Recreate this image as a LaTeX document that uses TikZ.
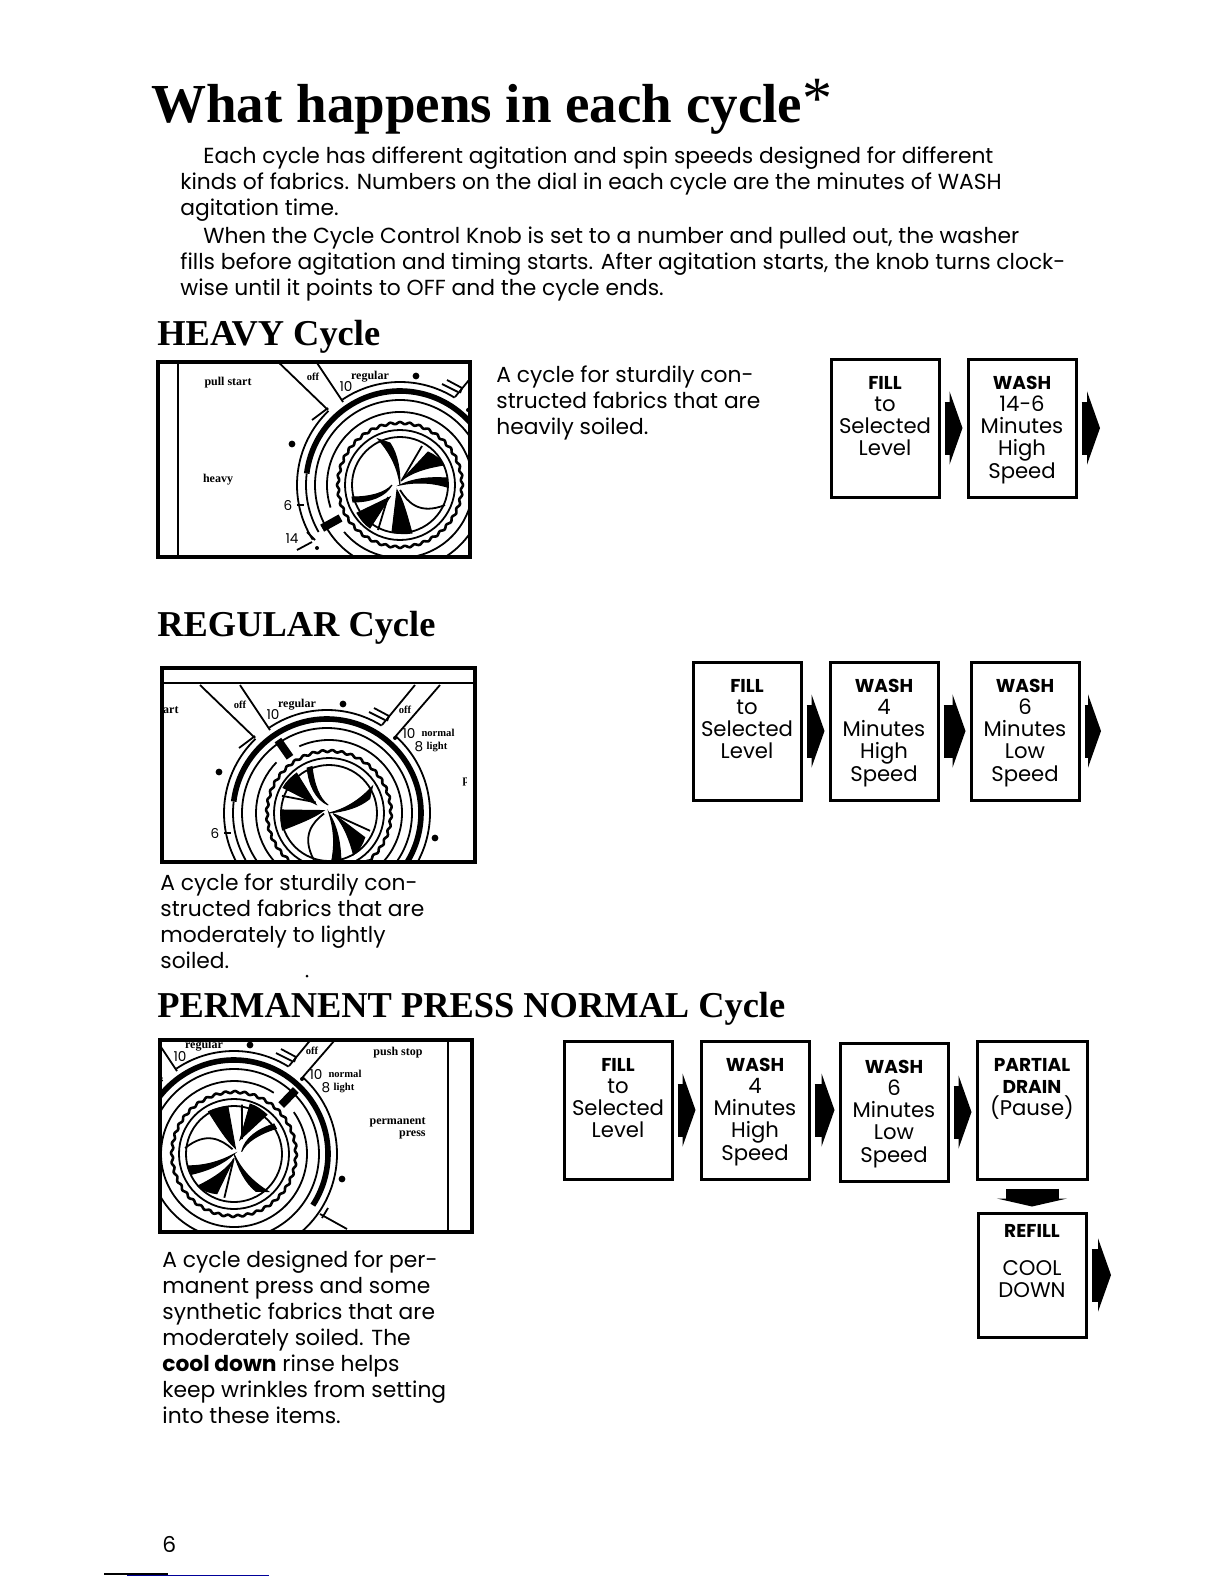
\documentclass[tikz,border=0pt]{standalone}
\usepackage{fontspec}
\setmainfont{Poppins}
\newfontfamily\headfont{Liberation Serif}
\usetikzlibrary{arrows.meta, positioning}

\newcommand{\boxhead}[1]{{\fontsize{9.3}{11.1}\selectfont\bfseries #1}}

\tikzset{
	bodytext/.style={anchor=north west, inner sep=0pt, align=left, font=\fontsize{10.9}{13}\selectfont},
	headtext/.style={anchor=base west, inner sep=0pt, font=\headfont\bfseries\fontsize{18.2}{22}\selectfont},
	flowbox/.style={draw, line width=1.5pt, inner sep=0pt, font=\fontsize{10.6}{11.1}\selectfont},
	flowarrow/.style={line width=26.5pt, -{Triangle[length=6.5pt,width=36.5pt]}, shorten <=2pt, shorten >=2pt},
	downarrow/.style={line width=26.5pt, -{Triangle[length=4pt,width=35pt]}, shorten <=4pt, shorten >=2.5pt},
	dialframe/.style={line width=2pt},
	panelline/.style={line width=0.9pt},
	paneltext/.style={inner sep=0pt, font=\headfont\bfseries\fontsize{6}{6}\selectfont},
	panelsmall/.style={inner sep=0pt, font=\headfont\bfseries\fontsize{5.3}{6}\selectfont},
	panelnum/.style={inner sep=0pt, font=\fontsize{6.8}{7}\selectfont},
	dialpanel/.pic={
		% fixed part of the panel, seen through each window
		\draw[panelline] (-222,-140) -- (-222,90);
		\draw[panelline] (214,-140) -- (214,90);
		\draw[panelline] (-240,-130) -- (240,-130);
		\draw[panelline] (-127,-128) -- (-72,-75);
		\draw[panelline] (-87,-128) -- (-57,-83);
		\draw[panelline] (-88,-65) -- (-72,-77);
		\draw[panelline] (88,-128) -- (55,-88);
		\draw[panelline] (113,-128) -- (68,-76);
		\draw[panelline] (42,-101) -- (58,-93);
		\draw[panelline] (47,-105) -- (62,-97) -- (60,-92);
		\draw[panelline] (-103,20) -- (-96,20);
		\draw[panelline] (-93,47) -- (-85,55);
		\draw[panelline] (-103,65) -- (-88,57);
		\draw[panelline] (86,60) -- (113,75);
		\draw[panelline] (94,54) -- (88,64);
		\foreach \a/\b/\r in {-48/52/103, 148/226/103, 236/302/103, 150/187/94, 0/360/85}
			\draw[panelline] (\a:\r) arc[start angle=\a, end angle=\b, radius=\r];
		\draw[line width=2.8pt] (187:94) arc[start angle=187, end angle=393, radius=94];
		\fill (16,-109) circle[radius=3.4];
		\fill (-108,-41) circle[radius=3.4];
		\fill (108,25) circle[radius=3.4];
		\fill (68,-75) circle[radius=2];
		\fill (-83,63) circle[radius=2];
		\node[paneltext] (-pull) at (-172,-102) {pull start};
		\node[paneltext] (-heavy) at (-182,-5) {heavy};
		\node[paneltext] (-regular) at (-30,-108) {regular};
		\node[panelsmall] (-offleft) at (-87,-108) {off};
		\node[panelsmall] (-offright) at (78,-103) {off};
		\node[panelsmall] (-normal) at (111,-80) {normal};
		\node[panelsmall] (-light) at (110,-66) {light};
		\node[paneltext] (-push) at (164,-101) {push stop};
		\node[paneltext, anchor=east, align=right] (-press) at (192,-26) {permanent\\press};
		\node[panelnum] (-ten) at (-54,-98) {10};
		\node[panelnum] (-tenb) at (82,-80) {10};
		\node[panelnum] (-eight) at (92,-66) {8};
		\node[panelnum] (-six) at (-112,20) {6};
		\node[panelnum] (-fourteen) at (-108,54) {14};
	},
	dialknob/.pic={
		% knob drawn with its pointer at the heavy setting, turned for the others
		\foreach \r in {48,55}
			\draw[panelline] (0,0) circle[radius=\r];
		\draw[line width=1.3pt, domain=-180:180, samples=361] plot (\x:{62+1*cos(40*\x)}) -- cycle;
		\draw[panelline] (162:73) arc[start angle=162, end angle=500, radius=73];
		\draw[line width=4pt] (151:68) -- (151:89);
		\filldraw[line width=0.5pt] (1,-4) -- (28,-33) .. controls (35,-30) and (40,-26) .. (44,-20) .. controls (25,-17) and (10,-12) .. (1,-4) -- cycle;
		\filldraw[line width=0.5pt] (0,0) .. controls (15,-7) and (30,-8) .. (47,-7) -- (47,2) .. controls (30,-3) and (15,-3) .. (0,0) -- cycle;
		\filldraw[line width=0.5pt] (-3,5) -- (-8,47) .. controls (-2,49) and (6,49) .. (12,48) .. controls (7,30) and (3,15) .. (-3,5) -- cycle;
		\filldraw[line width=0.5pt] (-10,12) -- (-43,28) .. controls (-40,33) and (-36,39) .. (-30,43) -- cycle;
		\filldraw[line width=0.5pt] (-48,12) .. controls (-30,12) and (-15,8) .. (-8,0) .. controls (-15,12) and (-30,17) .. (-47,17) -- cycle;
		\filldraw[line width=0.5pt] (-22,-46) -- (-10,-42) .. controls (-2,-30) and (0,-15) .. (0,0) .. controls (-2,-15) and (-8,-30) .. (-22,-46) -- cycle;
		\draw[panelline] (2,-5) -- (22,-39);
		\draw[panelline] (-12,12) -- (-22,45);
		\draw[panelline] (0,5) .. controls (8,18) and (20,30) .. (45,20);
	},
}

\begin{document}
\begin{tikzpicture}[x=0.5pt,y=-0.5pt]
	\useasboundingbox (0,0) rectangle (1224,1584);

	\node[anchor=base west, inner sep=0pt, font=\headfont\bfseries\fontsize{27.5}{30}\selectfont] (title) at (151,123) {What happens in each cycle{\mdseries\fontsize{30}{30}\selectfont\raisebox{2pt}{*}}};
	\node[bodytext] (introa) at (180,146) {\hspace*{11.5pt}Each cycle has different agitation and spin speeds designed for different\\kinds of fabrics. Numbers on the dial in each cycle are the minutes of WASH\\agitation time.};
	\node[bodytext] (introb) at (180,227) {\hspace*{11.5pt}When the Cycle Control Knob is set to a number and pulled out, the washer\\fills before agitation and timing starts. After agitation starts, the knob turns clock-\\wise until it points to OFF and the cycle ends.};

	\node[headtext] (heavyhead) at (157,345) {HEAVY Cycle};
	\node[headtext] (regularhead) at (157,636) {REGULAR Cycle};
	\node[headtext] (presshead) at (157,1017) {PERMANENT PRESS NORMAL Cycle};
	\fill (307,976) circle[radius=1.5];

	\node[bodytext] (heavytext) at (496,365) {A cycle for sturdily con-\\structed fabrics that are\\heavily soiled.};
	\node[bodytext] (regulartext) at (160,873) {A cycle for sturdily con-\\structed fabrics that are\\moderately to lightly\\soiled.};
	\node[bodytext] (presstext) at (162,1250) {A cycle designed for per-\\manent press and some\\synthetic fabrics that are\\moderately soiled. The\\\textbf{cool down} rinse helps\\keep wrinkles from setting\\into these items.};

	% dials
	\begin{scope}
		\clip (158,362) rectangle (470,557);
		\pic (heavy) at (400,485) {dialpanel};
		\pic (heavyknob) at (400,485) {dialknob};
	\end{scope}
	\draw[dialframe] (158,362) rectangle (470,557);
	\begin{scope}
		\clip (162,668) rectangle (475,862);
		\pic (regular) at (327,813) {dialpanel};
		\pic[rotate=-84] (regularknob) at (329,813) {dialknob};
		\fill[white] (452,695) rectangle (476,725);
		\fill[white] (467,765) rectangle (476,790);
	\end{scope}
	\draw[dialframe] (162,668) rectangle (475,862);
	\begin{scope}
		\clip (160,1040) rectangle (472,1232);
		\pic (press) at (234,1154) {dialpanel};
		\pic[rotate=-163] (pressknob) at (234,1154) {dialknob};
	\end{scope}
	\draw[dialframe] (160,1040) rectangle (472,1232);

	% heavy flow
	\node[flowbox] (heavyfill) at (885,428) {\parbox[c][69pt][t]{54pt}{\centering\vspace*{8.5pt}\boxhead{FILL}\\to\\Selected\\Level}};
	\node[flowbox] (heavywash) at (1022,428) {\parbox[c][69pt][t]{54pt}{\centering\vspace*{8.5pt}\boxhead{WASH}\\14-6\\Minutes\\High\\Speed}};
	\coordinate (heavyend) at (1104,428);
	\draw[flowarrow] (heavyfill.east) -- (heavywash.west);
	\draw[flowarrow] (heavywash.east) -- (heavyend);

	% regular flow
	\node[flowbox] (regularfill) at (747,731) {\parbox[c][69pt][t]{54pt}{\centering\vspace*{8.5pt}\boxhead{FILL}\\to\\Selected\\Level}};
	\node[flowbox] (regularwasha) at (884,731) {\parbox[c][69pt][t]{54pt}{\centering\vspace*{8.5pt}\boxhead{WASH}\\4\\Minutes\\High\\Speed}};
	\node[flowbox] (regularwashb) at (1025,731) {\parbox[c][69pt][t]{54pt}{\centering\vspace*{8.5pt}\boxhead{WASH}\\6\\Minutes\\Low\\Speed}};
	\coordinate (regularend) at (1105,731);
	\draw[flowarrow] (regularfill.east) -- (regularwasha.west);
	\draw[flowarrow] (regularwasha.east) -- (regularwashb.west);
	\draw[flowarrow] (regularwashb.east) -- (regularend);

	% permanent press flow
	\node[flowbox] (pressfill) at (618,1110) {\parbox[c][69pt][t]{54pt}{\centering\vspace*{8.5pt}\boxhead{FILL}\\to\\Selected\\Level}};
	\node[flowbox] (presswasha) at (755,1110) {\parbox[c][69pt][t]{54pt}{\centering\vspace*{8.5pt}\boxhead{WASH}\\4\\Minutes\\High\\Speed}};
	\node[flowbox] (presswashb) at (894,1112) {\parbox[c][69pt][t]{54pt}{\centering\vspace*{8.5pt}\boxhead{WASH}\\6\\Minutes\\Low\\Speed}};
	\node[flowbox] (pressdrain) at (1032,1110) {\parbox[c][69pt][t]{55pt}{\centering\vspace*{8.5pt}\boxhead{PARTIAL}\\\boxhead{DRAIN}\\(Pause)}};
	\node[flowbox] (pressrefill) at (1032,1275) {\parbox[c][62pt][t]{54pt}{\centering\vspace*{5.5pt}\boxhead{REFILL}\\[8pt]COOL\\DOWN}};
	\coordinate (pressend) at (1115,1275);
	\draw[flowarrow] (pressfill.east) -- (pressfill.east -| presswasha.west);
	\draw[flowarrow] (presswasha.east) -- (presswasha.east -| presswashb.west);
	\draw[flowarrow] (presswashb.east) -- (presswashb.east -| pressdrain.west);
	\draw[downarrow] (pressdrain.south) -- (pressrefill.north);
	\draw[flowarrow] (pressrefill.east) -- (pressend);

	\node[bodytext] (pagenum) at (162,1536) {6};
	\draw[line width=0.6pt] (104,1574) -- (168,1574);
	\draw[line width=0.4pt, blue!60!black] (127,1575) -- (269,1575);
\end{tikzpicture}
\end{document}
